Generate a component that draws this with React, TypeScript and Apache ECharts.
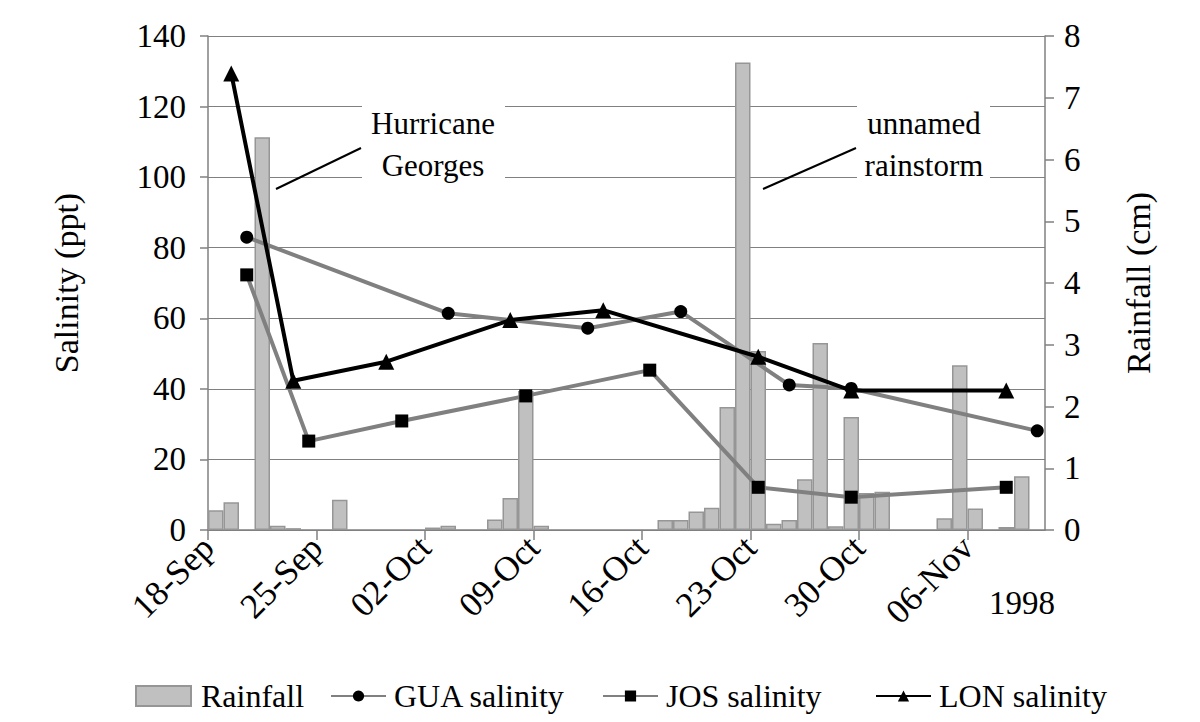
import React, { useEffect, useRef } from 'react';
import * as echarts from 'echarts';

// ---- Data ----
const tickLabels = ['18-Sep', '25-Sep', '02-Oct', '09-Oct', '16-Oct', '23-Oct', '30-Oct', '06-Nov'];

// daily rainfall (cm), 18-Sep .. 10-Nov 1998 (54 days)
const rainfallCm = [
  0.32, 0.45, 0, 6.36, 0.07, 0.03, 0, 0, 0.49, 0,
  0, 0, 0, 0, 0.04, 0.07, 0, 0, 0.17, 0.52,
  2.25, 0.07, 0, 0, 0, 0, 0, 0, 0, 0.16,
  0.16, 0.30, 0.36, 1.99, 7.57, 2.90, 0.10, 0.16, 0.82, 3.03,
  0.06, 1.83, 0.60, 0.62, 0, 0, 0, 0.19, 2.67, 0.35,
  0, 0.05, 0.87, 0,
];

const guaDates = ['20-Sep', '03-Oct', '12-Oct', '18-Oct', '25-Oct', '29-Oct', '10-Nov'];
const guaSalinity = [83.0, 61.4, 57.2, 61.9, 41.1, 40.1, 28.1];

const josDates = ['20-Sep', '24-Sep', '30-Sep', '08-Oct', '16-Oct', '23-Oct', '29-Oct', '08-Nov'];
const josSalinity = [72.3, 25.2, 30.9, 38.0, 45.3, 12.1, 9.3, 12.1];

const lonDates = ['19-Sep', '23-Sep', '29-Sep', '07-Oct', '13-Oct', '23-Oct', '29-Oct', '08-Nov'];
const lonSalinity = [129.4, 42.3, 47.7, 59.5, 62.3, 49.1, 39.5, 39.5];

// ---- helpers ----
const MONTH_OFFSET: Record<string, number> = { Sep: -18, Oct: 12, Nov: 43 };
function dayIndex(d: string): number {
  const [dd, mon] = d.split('-');
  return Number(dd) + MONTH_OFFSET[mon];
}
const monthNames = ['Sep', 'Oct', 'Nov'];
const monthLen = [30, 31, 30];
function dayLabel(i: number): string {
  let day = 18 + i;
  let m = 0;
  while (day > monthLen[m]) {
    day -= monthLen[m];
    m++;
  }
  return (day < 10 ? '0' : '') + day + '-' + monthNames[m];
}
const dayLabels = rainfallCm.map((_, i) => dayLabel(i));
const toPoints = (dates: string[], vals: number[]) => dates.map((d, i) => [dayIndex(d) + 0.5, vals[i]]);

const FONT = 'Liberation Serif';
const AXIS_GRAY = '#808080';

export default function App() {
  const ref = useRef<HTMLDivElement>(null);
  useEffect(() => {
    if (!ref.current) return;
    const chart = echarts.init(ref.current, undefined, { renderer: 'svg' });
    const lineSeries = (name: string, dates: string[], vals: number[], symbol: string, size: number, color: string) => ({
      name,
      type: 'line',
      xAxisIndex: 1,
      yAxisIndex: 0,
      data: toPoints(dates, vals),
      symbol,
      symbolSize: size,
      showAllSymbol: true,
      lineStyle: { color, width: 4 },
      itemStyle: { color: '#000' },
      z: 5,
    });
    const legendText = { fontSize: 32, fontFamily: FONT, color: '#000', padding: [0, 0, 0, 3] };
    const option: any = {
      animation: false,
      backgroundColor: '#ffffff',
      textStyle: { fontFamily: FONT, color: '#000' },
      grid: { left: 208, right: 155, top: 36, bottom: 192, containLabel: false },
      xAxis: [
        {
          type: 'category',
          data: dayLabels,
          boundaryGap: true,
          axisLine: { show: true, lineStyle: { color: AXIS_GRAY, width: 1.5 } },
          axisTick: { show: false },
          axisLabel: { show: false },
          splitLine: { show: false },
        },
        {
          type: 'value',
          min: 0,
          max: 54,
          interval: 7,
          position: 'bottom',
          axisLine: { show: false },
          axisTick: { show: true, length: 10, lineStyle: { color: AXIS_GRAY, width: 1.5 } },
          axisLabel: {
            rotate: 45,
            margin: 12,
            fontSize: 35,
            fontFamily: FONT,
            color: '#000',
            showMaxLabel: false,
            formatter: (v: number) => (v % 7 === 0 && tickLabels[v / 7]) || '',
          },
          splitLine: { show: false },
        },
      ],
      yAxis: [
        {
          type: 'value',
          min: 0,
          max: 140,
          interval: 20,
          name: 'Salinity (ppt)',
          nameLocation: 'middle',
          nameRotate: 90,
          nameGap: 125,
          nameTextStyle: { fontSize: 34, fontFamily: FONT, color: '#000' },
          axisLine: { show: true, lineStyle: { color: AXIS_GRAY, width: 1.5 } },
          axisTick: { show: true, length: 8, lineStyle: { color: AXIS_GRAY, width: 1.5 } },
          axisLabel: { fontSize: 33, margin: 22, fontFamily: FONT, color: '#000' },
          splitLine: { show: true, lineStyle: { color: AXIS_GRAY, width: 1.2 } },
        },
        {
          type: 'value',
          min: 0,
          max: 8,
          interval: 1,
          position: 'right',
          name: 'Rainfall (cm)',
          nameLocation: 'middle',
          nameRotate: 90,
          nameGap: 76,
          nameTextStyle: { fontSize: 34, fontFamily: FONT, color: '#000' },
          axisLine: { show: true, lineStyle: { color: AXIS_GRAY, width: 1.5 } },
          axisTick: { show: true, length: 9, lineStyle: { color: AXIS_GRAY, width: 1.5 } },
          axisLabel: { fontSize: 33, margin: 19, fontFamily: FONT, color: '#000' },
          splitLine: { show: false },
        },
      ],
      legend: [
        {
          data: [{ name: 'Rainfall', icon: 'rect' }],
          left: 130,
          top: 675,
          itemWidth: 55,
          itemHeight: 20,
          textStyle: { ...legendText, padding: [0, 0, 0, 5] },
        },
        { data: ['GUA salinity'], left: 325, top: 675, itemWidth: 55, itemHeight: 14, textStyle: legendText },
        { data: ['JOS salinity'], left: 597, top: 675, itemWidth: 55, itemHeight: 14, textStyle: legendText },
        { data: ['LON salinity'], left: 870, top: 675, itemWidth: 55, itemHeight: 14, textStyle: legendText },
      ],
      series: [
        {
          name: 'Rainfall',
          type: 'bar',
          xAxisIndex: 0,
          yAxisIndex: 1,
          data: rainfallCm.map((v) => (v === 0 ? null : v)),
          barCategoryGap: '0%',
          itemStyle: { color: '#c0c0c0', borderColor: '#969696', borderWidth: 1.5 },
          z: 2,
        },
        lineSeries('GUA salinity', guaDates, guaSalinity, 'circle', 13, AXIS_GRAY),
        lineSeries('JOS salinity', josDates, josSalinity, 'rect', 13, AXIS_GRAY),
        lineSeries('LON salinity', lonDates, lonSalinity, 'triangle', 16, '#000'),
      ],
      graphic: [
        // annotation boxes (white, interrupting gridlines)
        { type: 'rect', shape: { x: 362, y: 98, width: 143, height: 88 }, style: { fill: '#fff' }, z: 10 },
        { type: 'rect', shape: { x: 857, y: 98, width: 133, height: 88 }, style: { fill: '#fff' }, z: 10 },
        {
          type: 'text',
          x: 433,
          y: 144,
          style: { text: 'Hurricane\nGeorges', fontSize: 31, fontFamily: FONT, fill: '#000', align: 'center', verticalAlign: 'middle', lineHeight: 42 },
          z: 11,
        },
        {
          type: 'text',
          x: 924,
          y: 144,
          style: { text: 'unnamed\nrainstorm', fontSize: 31, fontFamily: FONT, fill: '#000', align: 'center', verticalAlign: 'middle', lineHeight: 42 },
          z: 11,
        },
        { type: 'line', shape: { x1: 276, y1: 189, x2: 361, y2: 148 }, style: { stroke: '#000', lineWidth: 2 }, z: 11 },
        { type: 'line', shape: { x1: 763, y1: 189, x2: 856, y2: 148 }, style: { stroke: '#000', lineWidth: 2 }, z: 11 },
        {
          type: 'text',
          x: 989,
          y: 603,
          style: { text: '1998', fontSize: 33, fontFamily: FONT, fill: '#000', align: 'left', verticalAlign: 'middle' },
          z: 11,
        },
      ],
    };
    chart.setOption(option);
    return () => chart.dispose();
  }, []);
  return (
    <div
      ref={ref}
      style={{ position: 'fixed', left: 0, top: 0, width: 1200, height: 722, background: '#fff' }}
    />
  );
}
